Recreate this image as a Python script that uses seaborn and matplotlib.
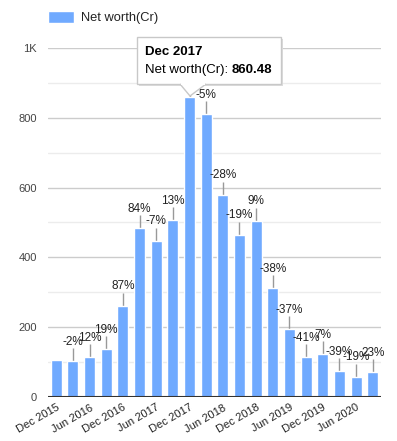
import numpy as np
import pandas as pd
import seaborn as sns
import matplotlib.pyplot as plt
from matplotlib.patches import Rectangle, Polygon

quarters = ["Dec 2015", "Mar 2016", "Jun 2016", "Sep 2016", "Dec 2016",
            "Mar 2017", "Jun 2017", "Sep 2017", "Dec 2017", "Mar 2018",
            "Jun 2018", "Sep 2018", "Dec 2018", "Mar 2019", "Jun 2019",
            "Sep 2019", "Dec 2019", "Mar 2020", "Jun 2020", "Sep 2020"]
net_worth = [105, 102, 114, 138, 262, 484, 448, 506, 860.48, 810,
             580, 465, 505, 313, 195, 115, 123, 74, 58, 72]
pct_change = ["", "-2%", "12%", "19%", "87%", "84%", "-7%", "13%", "70%", "-5%",
              "-28%", "-19%", "9%", "-38%", "-37%", "-41%", "7%", "-39%", "-19%", "23%"]
tick_labels = ["Dec 2015", "Jun 2016", "Dec 2016", "Jun 2017", "Dec 2017",
               "Jun 2018", "Dec 2018", "Jun 2019", "Dec 2019", "Jun 2020"]
hover = 8  # bar with the tooltip (Dec 2017)

df = pd.DataFrame({"quarter": quarters, "value": net_worth})

sns.set_style("white")
plt.rcParams['font.family'] = ['Liberation Sans', 'DejaVu Sans']

W, H = 397, 441
fig = plt.figure(figsize=(W / 100, H / 100), dpi=100)
ax = fig.add_axes([48 / W, 44 / H, 333 / W, 349 / H])

bar_color = "#70aaff"
sns.barplot(data=df, x="quarter", y="value", color=bar_color, width=0.66,
            saturation=1, ax=ax, label="Net worth(Cr)", zorder=3)

ax.set_ylim(0, 1000)
ax.set_xlim(-0.5, len(quarters) - 0.5)
for y in range(100, 1000, 200):
    ax.axhline(y, color="#ececec", lw=1, zorder=1)
for y in range(200, 1001, 200):
    ax.axhline(y, color="#cccccc", lw=1, zorder=1)
ax.axhline(0, color="#333333", lw=1.5, zorder=4)

ax.set_yticks([0, 200, 400, 600, 800, 1000])
ax.set_yticklabels(["0", "200", "400", "600", "800", "1K"], color="#444444", fontsize=8)
ax.set_xticks(range(0, len(quarters), 2))
ax.set_xticklabels(tick_labels, rotation=30, ha="right", rotation_mode="anchor",
                   color="#222222", fontsize=8)
ax.tick_params(axis="both", length=0)
ax.tick_params(axis="y", pad=8)
ax.tick_params(axis="x", pad=4)
ax.set_xlabel("")
ax.set_ylabel("")
for s in ax.spines.values():
    s.set_visible(False)

# change labels with stems (the hovered bar's label sits under the tooltip)
for i, (v, p) in enumerate(zip(net_worth, pct_change)):
    if not p:
        continue
    ax.vlines(i, v, v + 37, color="#999999", lw=1, zorder=2)
    if i != hover:
        ax.text(i, v + 38, p, ha="center", va="bottom", fontsize=8.5,
                color="#222222", zorder=5)

leg = ax.legend(loc="upper left", bbox_to_anchor=(48 / W, 1 - 11 / H),
                bbox_transform=fig.transFigure, frameon=False, fontsize=9.3,
                handlelength=2.05, handleheight=1.0, handletextpad=0.5,
                borderpad=0, borderaxespad=0)
for t in leg.get_texts():
    t.set_color("#222222")


def px(x, y):
    return (x / W, 1 - y / H)


# tooltip
shadow = Rectangle(px(139, 86), 144 / W, 47 / H, transform=fig.transFigure,
                   facecolor="#dddddd", edgecolor="none", zorder=9)
box = Rectangle(px(137, 84), 144 / W, 47 / H, transform=fig.transFigure,
                facecolor="white", edgecolor="#c8c8c8", lw=1, zorder=10)
fig.patches.extend([shadow, box])
tip = Polygon([px(180, 84), px(190, 96), px(206, 84)], closed=False,
              transform=fig.transFigure, facecolor="white", edgecolor="#c8c8c8",
              lw=1, zorder=10)
fig.patches.append(tip)
fig.patches.append(Rectangle(px(181, 85), 24 / W, 2 / H, transform=fig.transFigure,
                             facecolor="white", edgecolor="none", zorder=11))
fig.text(*px(145, 52), quarters[hover], fontsize=9.5, fontweight="bold",
         color="#000000", va="center", ha="left", zorder=12)
t1 = fig.text(*px(145, 70), "Net worth(Cr): ", fontsize=9.5, color="#000000",
              va="center", ha="left", zorder=12)
fig.canvas.draw()
bb = t1.get_window_extent()
fig.text(bb.x1 / W, 1 - 70 / H, f"{net_worth[hover]:.2f}", fontsize=9.5,
         fontweight="bold", color="#000000", va="center", ha="left", zorder=12)

fig.savefig("out.png", dpi=100)
